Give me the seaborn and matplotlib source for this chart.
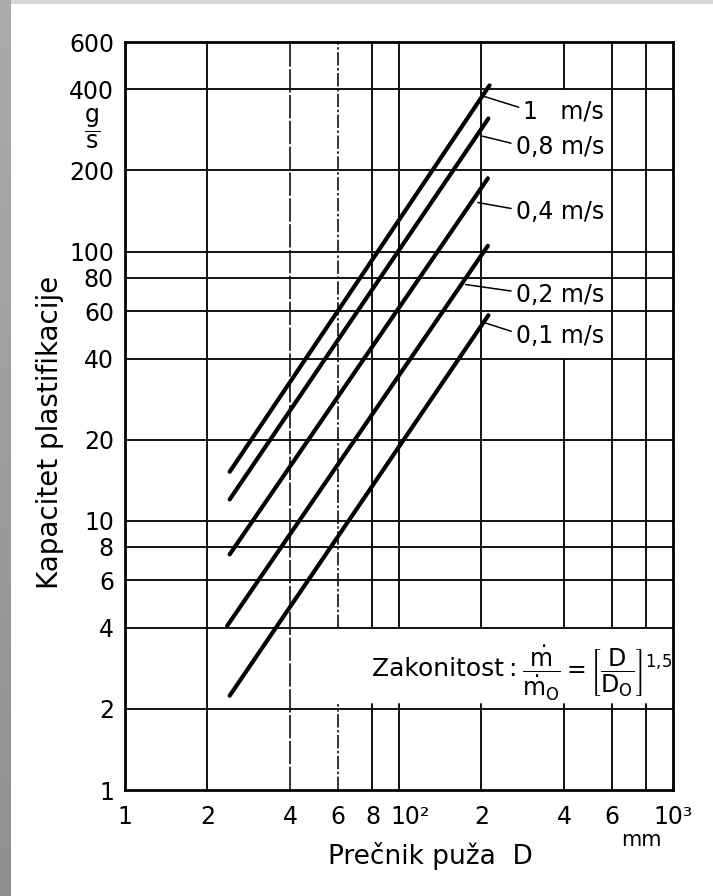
import numpy as np
import pandas as pd
import matplotlib
matplotlib.use("Agg")
import matplotlib.pyplot as plt
import matplotlib.transforms as mtransforms
import seaborn as sns

# ---- data ----
speeds = ["1   m/s", "0,8 m/s", "0,4 m/s", "0,2 m/s", "0,1 m/s"]
D_start = [24.1, 24.1, 24.1, 23.6, 24.1]      # mm
D_end = [214, 212, 211, 211, 212]              # mm
m_start = [15.2, 12.0, 7.5, 4.07, 2.24]        # g/s
m_end = [414, 312, 187, 105, 58]               # g/s

# leader anchor points on the lines and label positions
anchor_D = [204, 202, 194, 175, 204]
anchor_m = [377, 268, 152, 75.4, 54.5]
label_D = [560, 560, 560, 560, 560]
label_m = [331, 244, 140, 69.2, 48.7]

x_ticks = [10, 20, 40, 60, 80, 100, 200, 400, 600, 1000]
x_ticklabels = ["1", "2", "4", "6", "8", "10²", "2", "4", "6", "10³"]
y_ticks = [1, 2, 4, 6, 8, 10, 20, 40, 60, 80, 100, 200, 400, 600]
y_ticklabels = [str(v) for v in y_ticks]
x_grid = [20, 40, 60, 80, 100, 200, 400, 600, 800]
y_grid = [2, 4, 6, 8, 10, 20, 40, 60, 80, 100, 200, 400]

XMIN, XMAX, YMIN, YMAX = 10, 1000, 1, 600

rows = []
for s, d0, d1, m0, m1 in zip(speeds, D_start, D_end, m_start, m_end):
    rows.append({"v": s, "D": d0, "m": m0})
    rows.append({"v": s, "D": d1, "m": m1})
df = pd.DataFrame(rows)

sns.set_theme(style="white")
plt.rcParams["font.family"] = ["DejaVu Sans"]
plt.rcParams["mathtext.fontset"] = "dejavusans"

fig = plt.figure(figsize=(7.13, 8.96), dpi=100)
fig.patch.set_facecolor("white")

# grey slide border (left gradient band + top band)
bax = fig.add_axes([0, 0, 11 / 713, 1])
grad = np.linspace(0.67, 0.56, 256).reshape(-1, 1)
bax.imshow(grad, aspect="auto", cmap="gray", vmin=0, vmax=1, extent=[0, 1, 0, 1])
bax.set_axis_off()
tax = fig.add_axes([11 / 713, 1 - 4 / 896, 1, 4 / 896])
tax.set_facecolor("#d6d6d6")
tax.set_xticks([]); tax.set_yticks([])
for sp in tax.spines.values():
    sp.set_visible(False)

ax = fig.add_axes([125 / 713, 1 - 790 / 896, 548 / 713, 748 / 896])
ax.set_xscale("log")
ax.set_yscale("log")
ax.set_xlim(XMIN, XMAX)
ax.set_ylim(YMIN, YMAX)


def yfrac(v):
    return np.log10(v / YMIN) / np.log10(YMAX / YMIN)


# grid lines (with the gaps seen in the reference)
for yg in y_grid:
    ax.axhline(yg, color="#111111", lw=1.4, zorder=1)
box_gap = (yfrac(2.08), yfrac(4.0))
label_gap = (yfrac(40), yfrac(400))
for xg in x_grid:
    segs = [(0.0, 1.0)]
    if xg >= 60:
        segs = [(0.0, box_gap[0]), (box_gap[1], 1.0)]
    if xg == 400:
        segs = [(0.0, box_gap[0]), (box_gap[1], label_gap[0]), (label_gap[1], 1.0)]
    ls = "-"
    lw = 1.4
    if xg == 40:
        ls = (0, (14, 1.5))
        lw = 1.2
    elif xg == 60:
        ls = (0, (8, 1.5, 1.5, 1.5))
        lw = 1.2
    for a, b in segs:
        ax.axvline(xg, ymin=a, ymax=b, color="#111111", lw=lw, ls=ls, zorder=1)

sns.lineplot(data=df, x="D", y="m", units="v", estimator=None, color="black",
             lw=3.0, ax=ax, legend=False, zorder=3)

for s, ad, am, ld, lm in zip(speeds, anchor_D, anchor_m, label_D, label_m):
    ax.annotate(s, xy=(ad, am), xytext=(ld, lm), ha="right", va="center",
                fontsize=17, color="black",
                arrowprops=dict(arrowstyle="-", color="black", lw=1.1,
                                shrinkA=1, shrinkB=0, relpos=(0.0, 0.62)))

ax.set_xticks(x_ticks)
ax.set_xticklabels(x_ticklabels)
ax.set_yticks(y_ticks)
ax.set_yticklabels(y_ticklabels)
ax.xaxis.set_minor_locator(matplotlib.ticker.NullLocator())
ax.yaxis.set_minor_locator(matplotlib.ticker.NullLocator())
ax.tick_params(axis="both", length=0, labelsize=17, colors="black")
ax.tick_params(axis="x", pad=11)
ax.tick_params(axis="y", pad=8)
# "10²" sits a bit to the right of its grid line, as in the reference
lbl = ax.get_xticklabels()[5]
lbl.set_horizontalalignment("left")
lbl.set_transform(lbl.get_transform() +
                  mtransforms.ScaledTranslation(-9 / 100, 0, fig.dpi_scale_trans))
for sp in ax.spines.values():
    sp.set_color("black")
    sp.set_linewidth(2.0)
ax.set_xlabel("")
ax.set_ylabel("")


def axf(px, py):
    return (px - 125) / 548, (790 - py) / 748


ax.text(*axf(430, 864), "Prečnik puža  D", transform=ax.transAxes,
        ha="center", va="baseline", fontsize=19, color="black")
ax.text(*axf(50, 432), "Kapacitet plastifikacije", transform=ax.transAxes,
        ha="center", va="center", rotation=90, fontsize=20, color="black")
ax.text(*axf(641, 840), "mm", transform=ax.transAxes, ha="center", va="center",
        fontsize=15, color="black")
ax.text(*axf(92, 129), r"$\dfrac{\mathrm{g}}{\mathrm{s}}$", transform=ax.transAxes,
        ha="center", va="center", fontsize=17, color="black")
ax.text(*axf(372, 676), "Zakonitost\u2009:", transform=ax.transAxes,
        ha="left", va="baseline", fontsize=18, color="black", zorder=4)
ax.text(*axf(522, 673),
        r"$\dfrac{\dot{\mathrm{m}}}{\dot{\mathrm{m}}_{\mathrm{O}}}{=}\left[\dfrac{\mathrm{D}}{\mathrm{D}_{\mathrm{O}}}\right]^{1{,}5}$",
        transform=ax.transAxes, ha="left", va="center", fontsize=17, color="black", zorder=4)

fig.savefig("out.png", dpi=100, facecolor=fig.get_facecolor())
